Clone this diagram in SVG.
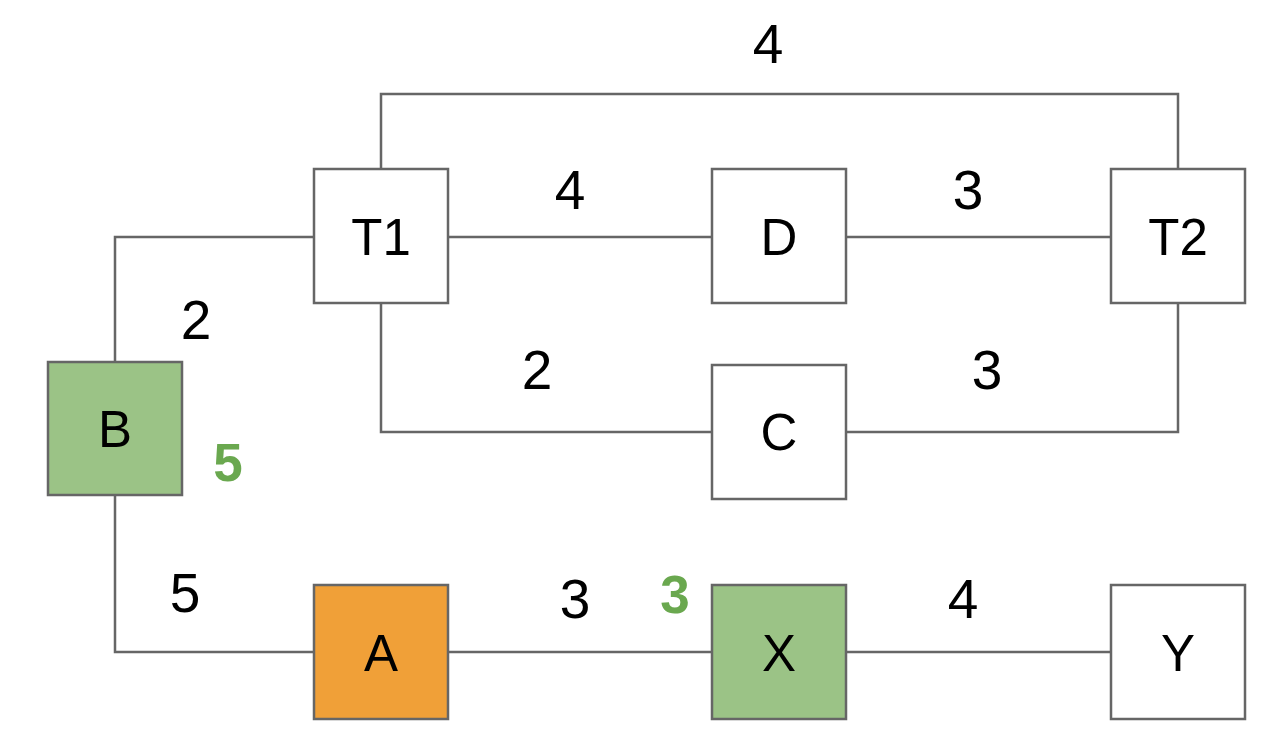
<svg xmlns="http://www.w3.org/2000/svg" width="1264" height="738" viewBox="0 0 1264 738">
<style>
.node{fill:#ffffff;stroke:#666666;stroke-width:2.5}
.green{fill:#9bc386}
.orange{fill:#f0a038}
.lbl{font-family:"Liberation Sans",Arial,sans-serif;font-size:51px;fill:#000;text-anchor:middle}
.w{font-family:"Liberation Sans",Arial,sans-serif;font-size:55px;fill:#000;text-anchor:middle}
.gw{font-family:"Liberation Sans",Arial,sans-serif;font-size:53px;font-weight:bold;fill:#6aa84f;text-anchor:middle}
.edge{fill:none;stroke:#666666;stroke-width:2.5}
</style>
<rect width="1264" height="738" fill="#ffffff"/>
<g id="connectors">
<path class="edge" d="M381,169 V94 H1178 V169"/>
<path class="edge" d="M448,237 H712"/>
<path class="edge" d="M846,237 H1111"/>
<path class="edge" d="M115,362 V237 H314"/>
<path class="edge" d="M381,303 V432 H712"/>
<path class="edge" d="M846,432 H1178 V303"/>
<path class="edge" d="M115,495 V652 H314"/>
<path class="edge" d="M448,652 H712"/>
<path class="edge" d="M846,652 H1111"/>
</g>
<g id="edge-labels">
<text class="w" x="768" y="63">4</text>
<text class="w" x="570" y="209">4</text>
<text class="w" x="968" y="209">3</text>
<text class="w" x="196" y="339">2</text>
<text class="w" x="537" y="389">2</text>
<text class="w" x="987" y="389">3</text>
<text class="w" x="185" y="612">5</text>
<text class="w" x="575" y="618">3</text>
<text class="w" x="963" y="618">4</text>
<text class="gw" x="228" y="481">5</text>
<text class="gw" x="675" y="613">3</text>
</g>
<g id="node-T1"><rect class="node" x="314" y="169" width="134" height="134"/><text class="lbl" x="381" y="255">T1</text></g>
<g id="node-D"><rect class="node" x="712" y="169" width="134" height="134"/><text class="lbl" x="779" y="255">D</text></g>
<g id="node-T2"><rect class="node" x="1111" y="169" width="134" height="134"/><text class="lbl" x="1178" y="255">T2</text></g>
<g id="node-C"><rect class="node" x="712" y="365" width="134" height="134"/><text class="lbl" x="779" y="450">C</text></g>
<g id="node-B"><rect class="node green" x="48" y="362" width="134" height="133"/><text class="lbl" x="115" y="447">B</text></g>
<g id="node-A"><rect class="node orange" x="314" y="585" width="134" height="134"/><text class="lbl" x="381" y="671">A</text></g>
<g id="node-X"><rect class="node green" x="712" y="585" width="134" height="134"/><text class="lbl" x="779" y="671">X</text></g>
<g id="node-Y"><rect class="node" x="1111" y="585" width="134" height="134"/><text class="lbl" x="1178" y="671">Y</text></g>
</svg>
